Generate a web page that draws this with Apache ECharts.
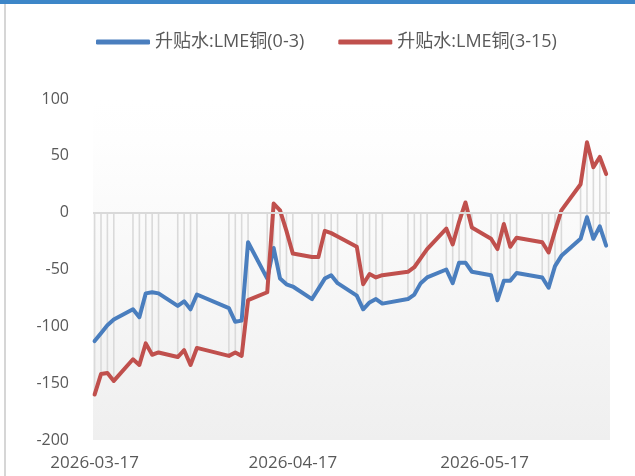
<!DOCTYPE html>
<html><head><meta charset="utf-8">
<script src="https://cdn.jsdelivr.net/npm/echarts@6/dist/echarts.min.js"></script>
<style>html,body{margin:0;padding:0;background:#fff}#c{width:635px;height:476px}</style>
</head><body><div id="c"></div>
<script>
const dates = [
 '2026-03-17','2026-03-18','2026-03-19','2026-03-20',
 '2026-03-23','2026-03-24','2026-03-25','2026-03-26','2026-03-27',
 '2026-03-30','2026-03-31','2026-04-01','2026-04-02',
 '2026-04-07','2026-04-08','2026-04-09','2026-04-10',
 '2026-04-13','2026-04-14','2026-04-15','2026-04-16','2026-04-17',
 '2026-04-20','2026-04-21','2026-04-22','2026-04-23','2026-04-24',
 '2026-04-27','2026-04-28','2026-04-29','2026-04-30','2026-05-01',
 '2026-05-05','2026-05-06','2026-05-07','2026-05-08',
 '2026-05-11','2026-05-12','2026-05-13','2026-05-14','2026-05-15',
 '2026-05-18','2026-05-19','2026-05-20','2026-05-21','2026-05-22',
 '2026-05-26','2026-05-27','2026-05-28','2026-05-29',
 '2026-06-01','2026-06-02','2026-06-03','2026-06-04','2026-06-05'
];
const spread0_3 = [
 -113,-106,-99,-94,
 -85,-92,-71,-70,-71,
 -82,-78,-85,-72,
 -84,-96,-95,-26,
 -58,-31,-58,-63,-65,
 -76,-67,-58,-55,-62,
 -73,-85,-79,-76,-80,
 -76,-72,-62,-57,
 -50,-62,-44,-44,-52,
 -55,-77,-60,-60,-53,
 -57,-66,-47,-38,
 -23,-4,-23,-12,-29
];
const spread3_15 = [
 -160,-142,-141,-148,
 -129,-134,-115,-125,-123,
 -127,-121,-134,-119,
 -126,-123,-126,-77,
 -70,8,2,-16,-36,
 -39,-39,-16,-18,-21,
 -30,-63,-54,-57,-55,
 -52,-48,-40,-32,
 -14,-28,-8,9,-13,
 -23,-32,-10,-30,-22,
 -26,-35,-16,2,
 25,62,40,49,34
];
const seriesNames = ['升贴水:LME铜(0-3)','升贴水:LME铜(3-15)'];
const xTickLabels = ['2026-03-17','2026-04-17','2026-05-17'];
const yMin = -200, yMax = 100, yStep = 50;

function ts(s){const p=s.split('-').map(Number);return Date.UTC(p[0],p[1]-1,p[2]);}
const DAY = 86400000;
const xMin = ts(dates[0]) - 0.25*DAY;
const xMax = ts(dates[dates.length-1]) + 0.6*DAY;
const tickVals = xTickLabels.map(ts);

const chart = echarts.init(document.getElementById('c'), null, {renderer:'canvas'});
const txt = '#595959';
const font = "'Open Sans','Noto Sans CJK SC',sans-serif";
chart.setOption({
  animation:false,
  backgroundColor:'#ffffff',
  graphic:[
    {type:'rect', left:0, top:0, shape:{width:635,height:4}, style:{fill:'#3d86c8'}, z:100},
    {type:'rect', left:4, top:4, shape:{width:2,height:472}, style:{fill:'#d6d6d6'}, z:100}
  ],
  legend:{
    data:seriesNames, left:91, top:28, icon:'roundRect', itemWidth:54, itemHeight:5,
    itemGap:34, textStyle:{color:txt, fontSize:18, fontFamily:font}
  },
  grid:{
    left:93, right:25, top:99, bottom:36, show:true, borderWidth:0,
    backgroundColor:new echarts.graphic.LinearGradient(0,0,0,1,[
      {offset:0,color:'#ffffff'},{offset:0.12,color:'#fefefe'},{offset:1,color:'#efefef'}
    ])
  },
  xAxis:{
    type:'value', min:xMin, max:xMax,
    axisLine:{show:false}, axisTick:{show:false}, splitLine:{show:false},
    axisLabel:{
      customValues:tickVals, color:txt, fontSize:17, fontFamily:font, margin:15,
      showMinLabel:true, showMaxLabel:true,
      formatter:function(v){
        let best=0; for(let i=0;i<tickVals.length;i++){ if(Math.abs(tickVals[i]-v)<Math.abs(tickVals[best]-v)) best=i; }
        return Math.abs(tickVals[best]-v)<DAY ? xTickLabels[best] : '';
      }
    }
  },
  yAxis:{
    type:'value', min:yMin, max:yMax, interval:yStep,
    axisLine:{show:false}, axisTick:{show:false}, splitLine:{show:false},
    axisLabel:{color:txt, fontSize:16, fontFamily:font, margin:24}
  },
  series:[
    {
      type:'custom', silent:true, z:1,
      data:dates.map((d,i)=>[ts(d), Math.min(0,spread0_3[i],spread3_15[i]), Math.max(0,spread0_3[i],spread3_15[i])]),
      encode:{x:0,y:[1,2]},
      renderItem:function(params, api){
        const a = api.coord([api.value(0), api.value(1)]);
        const b = api.coord([api.value(0), api.value(2)]);
        return {type:'line', shape:{x1:a[0],y1:a[1],x2:b[0],y2:b[1]}, style:{stroke:'#dadada', lineWidth:1.6}};
      },
      markLine:{
        silent:true, symbol:['none','none'], label:{show:false},
        lineStyle:{color:'#d9d9d9', width:2, type:'solid'},
        data:[{yAxis:0}]
      }
    },
    {
      name:seriesNames[0], type:'line', symbol:'none', z:3,
      data:dates.map((d,i)=>[ts(d), spread0_3[i]]),
      lineStyle:{width:4, color:'#4a7ebe', cap:'round', join:'round'},
      itemStyle:{color:'#4a7ebe'}
    },
    {
      name:seriesNames[1], type:'line', symbol:'none', z:3,
      data:dates.map((d,i)=>[ts(d), spread3_15[i]]),
      lineStyle:{width:4, color:'#c0504d', cap:'round', join:'round'},
      itemStyle:{color:'#c0504d'}
    }
  ]
});
</script></body></html>
